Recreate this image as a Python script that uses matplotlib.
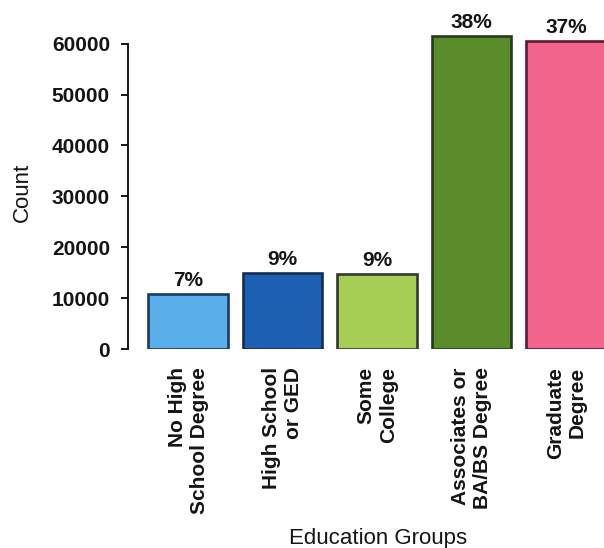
import matplotlib
matplotlib.use('Agg')
import matplotlib.pyplot as plt

# education group counts
groups = ['No High\nSchool Degree', 'High School\nor GED', 'Some\nCollege',
          'Associates or\nBA/BS Degree', 'Graduate\nDegree']
counts = [10850, 14900, 14750, 61500, 60500]
pct_labels = ['7%', '9%', '9%', '38%', '37%']
y_ticks = [0, 10000, 20000, 30000, 40000, 50000, 60000]

fill_colors = ['#5aaeea', '#1d5fb0', '#a8cd55', '#5b8c2c', '#f2648c']
edge_colors = ['#1c3a62', '#142e55', '#2f3b2f', '#263a1e', '#5a1a32']
ink = '#151515'

plt.rcParams['font.family'] = ['Liberation Sans', 'DejaVu Sans']

fig = plt.figure(figsize=(6.04, 5.48), dpi=100)
ax = fig.add_axes([0.212, 0.363, 0.788, 0.613])

x = list(range(len(groups)))
bars = ax.bar(x, counts, width=0.84, color=fill_colors,
              edgecolor=edge_colors, linewidth=1.9, zorder=2)

for b, lab in zip(bars, pct_labels):
    ax.annotate(lab, xy=(b.get_x() + b.get_width() / 2, b.get_height()),
                xytext=(0, 3), textcoords='offset points',
                ha='center', va='bottom', fontsize=15, fontweight='bold',
                color=ink)

ax.set_xlim(-0.635, 4.40)
ax.set_ylim(0, 66000)

ax.set_yticks(y_ticks)
ax.set_yticklabels([str(t) for t in y_ticks], fontsize=15, fontweight='bold',
                   color=ink)
ax.tick_params(axis='y', direction='out', length=5, width=1.4, pad=8,
               color=ink)

ax.set_xticks(x)
ax.set_xticklabels(groups, rotation=90, ha='center', va='top',
                   multialignment='right', fontsize=15, fontweight='bold',
                   color=ink)
ax.tick_params(axis='x', length=0, pad=13)

for side in ['top', 'right', 'bottom']:
    ax.spines[side].set_visible(False)
ax.spines['left'].set_bounds(0, 60000)
ax.spines['left'].set_linewidth(1.4)
ax.spines['left'].set_color(ink)

ax.set_ylabel('Count', fontsize=16, color=ink, va='center')
ax.yaxis.set_label_coords(-0.223, 0.467)
ax.set_xlabel('Education Groups', fontsize=16, color=ink, va='center')
ax.xaxis.set_label_coords(0.525, -0.5625)

fig.savefig('out.png', dpi=100)
